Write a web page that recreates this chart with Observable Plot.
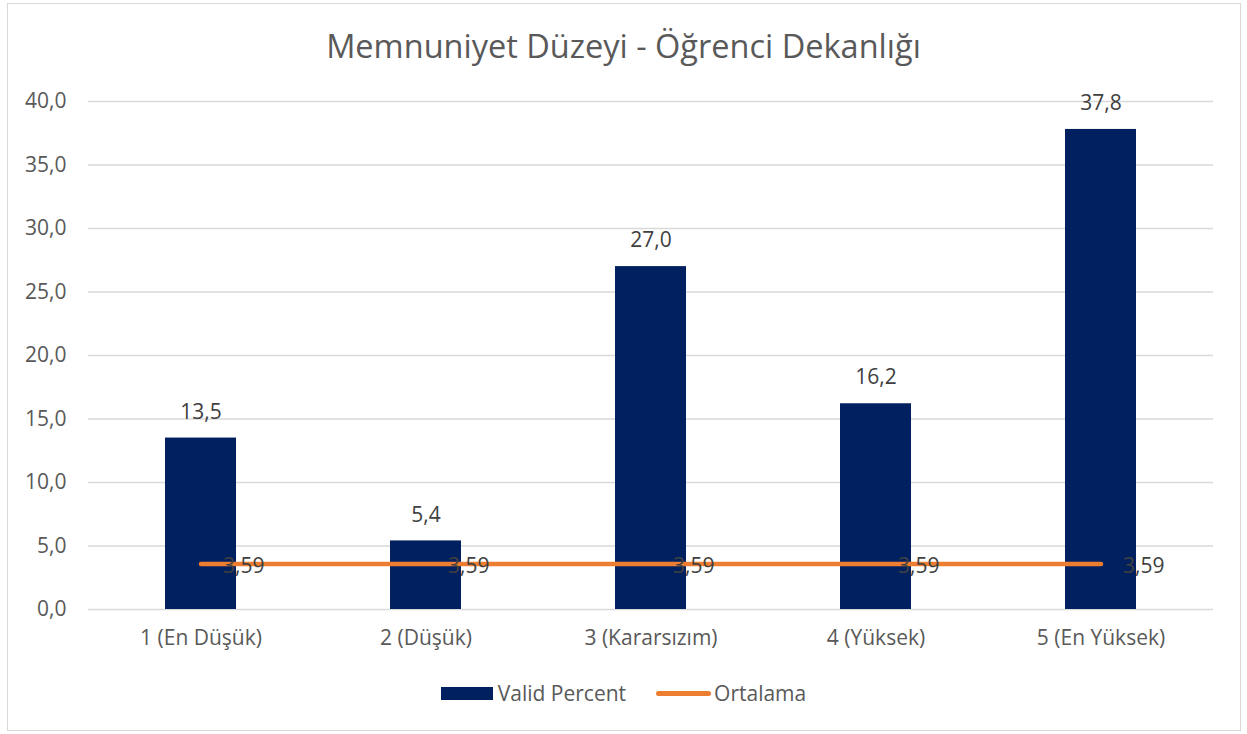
<!DOCTYPE html>
<html><head><meta charset="utf-8">
<script src="https://cdn.jsdelivr.net/npm/d3@7"></script>
<script src="https://cdn.jsdelivr.net/npm/@observablehq/plot@0.6"></script>
<style>
body{margin:0;background:#fff;font-family:"Open Sans",sans-serif;width:1247px;height:734px;position:relative;overflow:hidden;}
#frame{position:absolute;left:7px;top:3px;width:1234px;height:728px;border:1.5px solid #d9d9d9;box-sizing:border-box;}
#title{position:absolute;left:0;top:26px;width:1247px;text-align:center;font-size:32.5px;color:#595959;line-height:40px;}
#chart{position:absolute;left:0;top:70px;}
#legend{position:absolute;left:0;top:680px;width:1247px;display:flex;justify-content:center;align-items:center;font-size:21px;color:#595959;line-height:26px;}
.sw{display:inline-block;}
</style></head>
<body>
<div id="frame"></div>
<div id="title">Memnuniyet Düzeyi - Öğrenci Dekanlığı</div>
<div id="chart"></div>
<div id="legend"></div>
<script>
const categories = ["1 (En Düşük)", "2 (Düşük)", "3 (Kararsızım)", "4 (Yüksek)", "5 (En Yüksek)"];
const validPercent = [13.5, 5.4, 27.0, 16.2, 37.8];
const ortalama = [3.59, 3.59, 3.59, 3.59, 3.59];
const yTicks = [0, 5, 10, 15, 20, 25, 30, 35, 40];
const seriesNames = ["Valid Percent", "Ortalama"];
const colors = ["#002060", "#ED7D31"];

const data = categories.map((c, i) => ({cat: c, v: validPercent[i], avg: ortalama[i]}));
const fmt1 = d => d.toFixed(1).replace(".", ",");
const fmt2 = d => d.toFixed(2).replace(".", ",");

const chart = Plot.plot({
  width: 1247,
  height: 600,
  marginLeft: 88,
  marginRight: 34,
  marginTop: 31,
  marginBottom: 61,
  style: {fontFamily: "'Open Sans', sans-serif", fontSize: "21px", color: "#595959", background: "transparent"},
  x: {domain: categories, padding: 0, label: null},
  y: {domain: [0, 40], label: null},
  marks: [
    Plot.gridY(yTicks, {stroke: "#d9d9d9", strokeOpacity: 1, strokeWidth: 1.3}),
    Plot.axisY(yTicks, {tickSize: 0, tickPadding: 22, tickFormat: fmt1, fontSize: 21, fill: "#595959", label: null}),
    Plot.axisX({tickSize: 0, tickPadding: 21, fontSize: 21, fill: "#595959", label: null}),
    Plot.barY(data, {x: "cat", y: "v", fill: colors[0], insetLeft: 77, insetRight: 77}),
    Plot.lineY(data, {x: "cat", y: "avg", stroke: colors[1], strokeWidth: 4.5, strokeLinecap: "round"}),
    Plot.text(data, {x: "cat", y: "v", text: d => fmt1(d.v), dy: -26, fill: "#404040", fontSize: 21}),
    Plot.text(data, {x: "cat", y: "avg", text: d => fmt2(d.avg), textAnchor: "start", dx: 22, dy: 2, fill: "#404040", fontSize: 21})
  ]
});
document.getElementById("chart").appendChild(chart);

const legend = document.getElementById("legend");
legend.innerHTML = `
  <span class="sw" style="width:52px;height:13px;background:${colors[0]};margin-right:5px;"></span><span>${seriesNames[0]}</span>
  <span class="sw" style="width:55px;height:5px;border-radius:3px;background:${colors[1]};margin-left:30px;margin-right:3px;"></span><span>${seriesNames[1]}</span>`;
</script>
</body></html>
